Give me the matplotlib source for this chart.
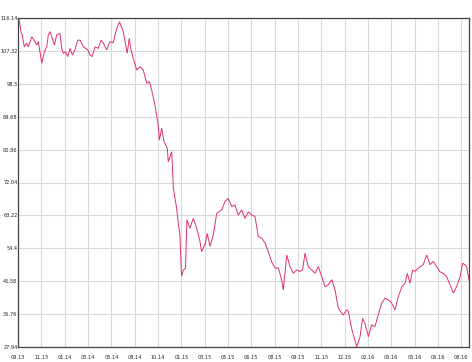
import matplotlib
matplotlib.use("Agg")
import matplotlib.pyplot as plt

# x position in tick-interval units (0 = first tick "09.13")
pos = [0.00, 0.04, 0.13, 0.18, 0.27, 0.37, 0.44, 0.59, 0.73, 0.80, 0.87, 0.94, 1.02, 1.13, 1.23, 1.30,
       1.37, 1.47, 1.56, 1.66, 1.80, 1.87, 1.94, 2.04, 2.13, 2.23, 2.33, 2.44, 2.56, 2.66, 2.73, 2.80,
       2.90, 2.99, 3.09, 3.18, 3.30, 3.44, 3.56, 3.66, 3.80, 3.94, 4.08, 4.23, 4.35, 4.51, 4.68, 4.77,
       4.83, 4.94, 5.09, 5.23, 5.37, 5.52, 5.63, 5.73, 5.87, 6.01, 6.06, 6.16, 6.26, 6.40, 6.44, 6.59,
       6.66, 6.80, 6.87, 6.94, 7.01, 7.09, 7.18, 7.24, 7.37, 7.51, 7.65, 7.80, 7.87, 8.02, 8.11, 8.23,
       8.37, 8.52, 8.73, 8.87, 9.01, 9.16, 9.30, 9.44, 9.59, 9.73, 9.87, 10.02, 10.16, 10.30, 10.45,
       10.59, 10.73, 10.87, 11.02, 11.16, 11.30, 11.37, 11.52, 11.66, 11.80, 11.95, 12.09, 12.20, 12.30,
       12.44, 12.59, 12.73, 12.87, 13.02, 13.16, 13.30, 13.45, 13.59, 13.73, 13.94, 14.09, 14.16, 14.30,
       14.52, 14.66, 14.77, 14.87, 15.02, 15.16, 15.30, 15.44, 15.59, 15.73, 15.87, 16.02, 16.16, 16.30,
       16.45, 16.59, 16.69, 16.80, 16.92, 17.02, 17.16, 17.37, 17.52, 17.66, 17.80, 17.94, 18.09, 18.23,
       18.37, 18.52, 18.66, 18.80, 18.95, 19.06, 19.16, 19.23, 19.33]

price = [116.0, 115.9, 112.4, 111.6, 108.4, 109.4, 108.4, 111.1, 109.8, 108.9, 109.8, 107.1, 104.0, 107.1,
         108.4, 111.6, 112.5, 110.7, 108.9, 111.6, 112.0, 108.0, 106.7, 107.1, 105.8, 108.0, 106.2, 107.6,
         110.2, 110.2, 109.4, 108.4, 108.0, 107.6, 106.2, 105.8, 108.4, 108.0, 110.2, 109.4, 107.6, 109.8,
         109.5, 113.4, 115.1, 112.5, 106.7, 110.7, 108.0, 105.3, 102.2, 103.1, 102.2, 98.6, 99.1, 96.8,
         92.8, 87.5, 83.4, 86.6, 83.0, 81.2, 77.6, 80.3, 70.5, 65.1, 61.2, 57.9, 47.0, 48.6, 49.0, 62.0,
         59.8, 62.4, 60.0, 56.2, 53.5, 55.6, 58.4, 54.9, 58.0, 63.8, 64.7, 66.9, 67.8, 65.6, 66.0, 63.3,
         64.7, 62.4, 64.2, 63.3, 62.9, 57.5, 57.1, 55.8, 53.5, 50.8, 49.1, 49.1, 46.0, 43.2, 52.6, 49.5,
         47.7, 48.6, 48.2, 48.6, 53.1, 49.5, 48.6, 47.7, 49.5, 46.8, 44.1, 44.6, 46.0, 43.2, 38.3, 36.5,
         37.9, 37.5, 32.9, 28.0, 30.7, 35.6, 34.3, 30.7, 33.9, 33.4, 36.5, 39.7, 41.0, 40.6, 39.7, 37.9,
         41.4, 44.1, 45.0, 47.7, 45.0, 48.6, 48.2, 49.1, 50.0, 52.6, 50.0, 50.9, 49.5, 48.1, 47.7, 46.8,
         44.6, 42.4, 44.1, 46.8, 50.4, 50.0, 49.5, 45.9]

x_labels = ["09.13", "11.13", "01.14", "03.14", "05.14", "08.14", "10.14", "01.15", "03.15", "05.15",
            "06.15", "08.15", "09.15", "11.15", "12.15", "02.16", "03.16", "05.16", "06.16", "08.16"]
y_ticks = [27.94, 36.76, 45.58, 54.4, 63.22, 72.04, 80.86, 89.68, 98.5, 107.32, 116.14]
y_labels = ["27.94", "36.76", "45.58", "54.4", "63.22", "72.04", "80.86", "89.68", "98.5", "107.32", "116.14"]

fig = plt.figure(figsize=(4.72, 3.62), dpi=100)
ax = fig.add_axes([18 / 472, 15 / 362, 451 / 472, 329 / 362])

ax.plot(pos, price, color="#e0306e", linewidth=0.7, solid_joinstyle="miter")

ax.set_xlim(0, 451 / 23.33)
ax.set_ylim(y_ticks[0], y_ticks[-1])
ax.set_xticks(range(len(x_labels)))
ax.set_xticklabels(x_labels)
ax.set_yticks(y_ticks)
ax.set_yticklabels(y_labels)
ax.tick_params(axis="both", length=0, labelsize=3.6, colors="#222222")
ax.tick_params(axis="x", pad=5.5)
ax.tick_params(axis="y", pad=0.4)
ax.grid(True, color="#d8d8d8", linewidth=0.8)
ax.set_axisbelow(True)
for side in ["left", "bottom", "top", "right"]:
    ax.spines[side].set_color("#444444")
    ax.spines[side].set_linewidth(0.9)

fig.savefig("out.png", dpi=100)
